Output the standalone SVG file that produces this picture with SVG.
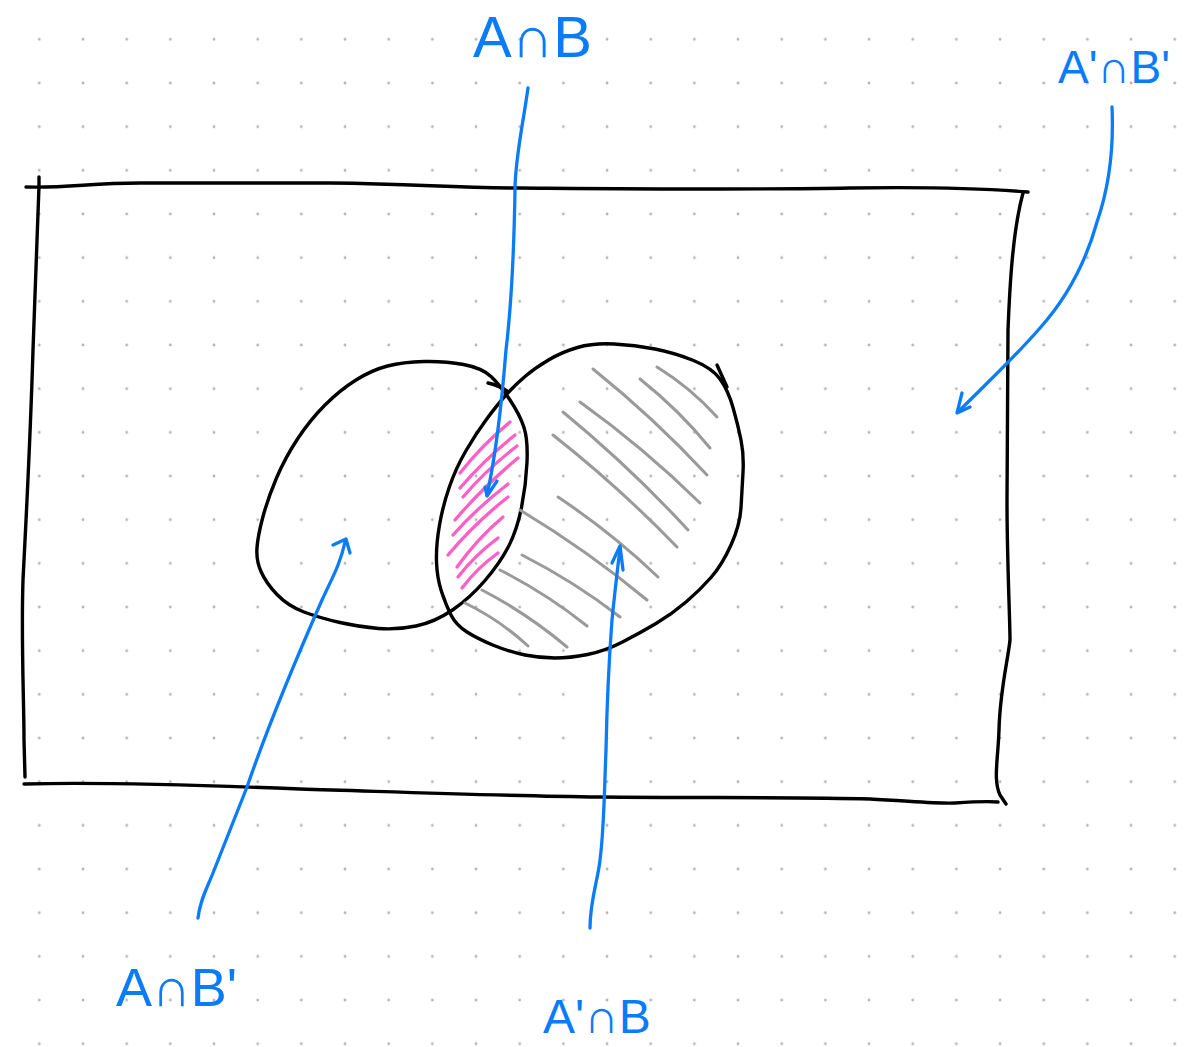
<svg xmlns="http://www.w3.org/2000/svg" width="1190" height="1047" viewBox="0 0 1190 1047">
<style>
.ink{fill:none;stroke:#000;stroke-width:3.4;stroke-linecap:round;stroke-linejoin:round}
.blue{fill:none;stroke:#0a7cf8;stroke-width:3.3;stroke-linecap:round;stroke-linejoin:round}
.gray{fill:none;stroke:#9a9a9a;stroke-width:3;stroke-linecap:round}
.pink{fill:none;stroke:#ff5fc6;stroke-width:3.3;stroke-linecap:round}
.lbl{font-family:"Liberation Sans",Arial,sans-serif;fill:#0a7cf8}
</style>
<defs>
<pattern id="dots" patternUnits="userSpaceOnUse" x="17.5" y="17.5" width="43.67" height="43.67">
<circle cx="21.83" cy="21.83" r="1.4" fill="#b4b4b4"/>
</pattern>
</defs>
<rect width="1190" height="1047" fill="#fff"/>
<rect width="1190" height="1047" fill="url(#dots)"/>

<g id="universe">
<path class="ink" d="M26,187 C70,188 90,183 140,183 L330,183 C420,184 450,188 520,188 C650,189 750,190 850,188 C920,187 980,188 1028,192"/>
<path class="ink" d="M1023,193 C1013,230 1010,280 1008,330 L1007,500 C1007,560 1010,620 1010,640 C1008,660 1000,690 999,730 C998,760 993,780 1000,795 L1006,804"/>
<path class="ink" d="M24,784 C100,782 200,785 300,789 C400,792 500,796 600,797 C700,798 800,797 870,799 C910,801 940,804 955,803 C970,802 985,801 998,802"/>
<path class="ink" d="M39,177 L39,186 C38,220 36,280 33,350 C30,450 26,520 23,580 C21,640 24,700 24,740 L25,777"/>
</g>

<g id="setA">
<path class="ink" d="M424,361.5 Q445,361 463.5,364.5 Q482,368 491,376.5 Q500,385 510,400 Q520,415 524,427.5 Q528,440 527,462.5 Q526,485 521.5,507.5 Q517,530 508.5,546.5 Q500,563 485,580.5 Q470,598 452.5,610 Q435,622 416,626 Q397,630 378.5,628.5 Q360,627 340,622.5 Q320,618 304,612 Q288,606 277,594.5 Q266,583 261,571.5 Q256,560 257,547.5 Q258,535 263,516.5 Q268,498 276.5,478 Q285,458 297.5,439 Q310,420 325,405 Q340,390 356,380 Q372,370 387.5,366 Q403,362 424,361.5 Z"/>
<path class="ink" d="M488,383 Q498,385 507,391"/>
</g>

<g id="setB">
<path class="ink" d="M614,344 Q635,345 655,349 Q675,353 693.5,360.5 Q712,368 720,379 Q728,390 733,407.5 Q738,425 741,440 Q744,455 743,472.5 Q742,490 741,507.5 Q740,525 731,545 Q722,565 711,577.5 Q700,590 686,602 Q672,614 656,623.5 Q640,633 622.5,642 Q605,651 587.5,654.5 Q570,658 555,658 Q540,658 525,655 Q510,652 494,645.5 Q478,639 467,632 Q456,625 451,615 Q446,605 441.5,591.5 Q437,578 436.5,561.5 Q436,545 439.5,525 Q443,505 449.5,486.5 Q456,468 465.5,451.5 Q475,435 486,420 Q497,405 506,395 Q515,385 525,376.5 Q535,368 548.5,360 Q562,352 577.5,347.5 Q593,343 614,344 Z"/>
<path class="ink" d="M717,365 L727,387"/>
</g>

<g id="hatch-b-only">
<path class="gray" d="M657,367 Q691,388 717,417"/>
<path class="gray" d="M640,379 Q679,410 710,448"/>
<path class="gray" d="M593,369 Q654,418 707,475"/>
<path class="gray" d="M580,402 Q644,448 700,503"/>
<path class="gray" d="M563,412 Q630,467 688,530"/>
<path class="gray" d="M553,435 Q619,487 677,547"/>
<path class="gray" d="M558,497 Q612,533 658,577"/>
<path class="gray" d="M520,510 Q588,551 647,600"/>
<path class="gray" d="M522,555 Q575,582 620,617"/>
<path class="gray" d="M500,570 Q547,594 587,626"/>
<path class="gray" d="M482,590 Q528,614 567,647"/>
<path class="gray" d="M465,603 Q500,620 528,646"/>
</g>

<g id="hatch-a-and-b">
<path class="pink" d="M460,473 Q482,445 510,422"/>
<path class="pink" d="M460,488 Q485,459 515,435"/>
<path class="pink" d="M463,497 Q487,469 517,446"/>
<path class="pink" d="M455,520 Q484,486 518,458"/>
<path class="pink" d="M453,535 Q478,507 508,484"/>
<path class="pink" d="M448,555 Q475,523 508,497"/>
<path class="pink" d="M457,567 Q477,539 503,517"/>
<path class="pink" d="M458,577 Q475,555 498,538"/>
<path class="pink" d="M462,588 Q477,568 498,553"/>
</g>

<g id="connectors">
<path class="blue" d="M528,88 C522,130 515,160 515,190 C514,250 512,300 506,350 C502,400 497,450 487,495"/>
<path class="blue" d="M485,487 L487,496 L497,481"/>
<path class="blue" d="M1112,107 C1114,150 1108,190 1097,222 C1085,265 1065,300 1040,328 C1015,357 985,385 958,412"/>
<path class="blue" d="M962,393 L957,413 L970,407"/>
<path class="blue" d="M198,918 C200,900 207,888 213,873 C230,830 240,805 247,787 C270,720 300,650 322,600 C332,578 340,565 345,542"/>
<path class="blue" d="M333,545 L346,539 L350,553"/>
<path class="blue" d="M590,928 C590,900 598,880 600,860 C604,830 604,800 606,750 C607,700 609,660 612,620 C615,590 618,565 620,548"/>
<path class="blue" d="M612,563 L620,546 L623,570"/>
</g>

<g id="label-AnB"><text class="lbl" x="473" y="57" font-size="58">A∩B</text></g>
<g id="label-AcnBc"><text class="lbl" x="1058" y="83" font-size="46">A'∩B'</text></g>
<g id="label-AnBc"><text class="lbl" x="116" y="1006" font-size="54">A∩B'</text></g>
<g id="label-AcnB"><text class="lbl" x="543" y="1033" font-size="48">A'∩B</text></g>
</svg>
